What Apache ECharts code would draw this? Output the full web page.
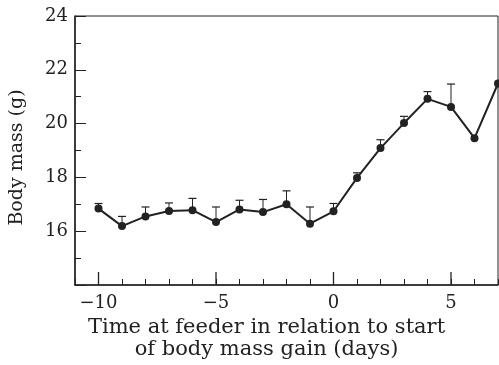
<!DOCTYPE html>
<html>
<head>
<meta charset="utf-8">
<script src="https://cdn.jsdelivr.net/npm/echarts@6/dist/echarts.min.js"></script>
<style>
html,body{margin:0;padding:0;background:#fff;}
#chart{width:499px;height:365px;}
</style>
</head>
<body>
<div id="chart"></div>
<script>
// days relative to start of body mass gain
var days = [-10, -9, -8, -7, -6, -5, -4, -3, -2, -1, 0, 1, 2, 3, 4, 5, 6, 7];
// mean body mass (g)
var mass = [16.84, 16.19, 16.55, 16.75, 16.78, 16.34, 16.81, 16.71, 17.0, 16.28, 16.74, 17.98, 19.09, 20.02, 20.92, 20.62, 19.46, 21.49];
// top of the error bar (g), null = no bar drawn
var errTop = [17.03, 16.55, 16.9, 17.05, 17.22, 16.9, 17.15, 17.18, 17.5, 16.9, 17.03, 18.17, 19.4, 20.27, 21.19, 21.47, null, null];
// labelled (long) ticks on the x axis
var majorDays = [-10, -5, 0, 5];

var ink = '#222';
var font = 'DejaVu Serif';

var lineData = [];
var errData = [];
for (var i = 0; i < days.length; i++) {
	lineData.push([days[i], mass[i]]);
	if (errTop[i] != null) errData.push([days[i], mass[i], errTop[i]]);
}

var chart = echarts.init(document.getElementById('chart'));
chart.setOption({
	animation: false,
	grid: {
		left: 75, right: 1, top: 16, bottom: 80,
		outerBoundsMode: 'none',
		show: true, borderColor: ink, borderWidth: 1
	},
	xAxis: {
		type: 'value',
		min: -11, max: 7, interval: 1,
		axisLine: { onZero: false, lineStyle: { color: ink, width: 1.5 } },
		axisTick: { inside: true, length: 6, lineStyle: { color: ink } },
		splitLine: { show: false },
		axisLabel: {
			color: ink, fontFamily: font, fontSize: 18, margin: 9,
			formatter: function (v) {
				if (majorDays.indexOf(v) < 0) return '';
				return v < 0 ? '\u2212' + Math.abs(v) : '' + v;
			}
		},
		name: 'Time at feeder in relation to start\nof body mass gain (days)',
		nameLocation: 'middle',
		nameGap: 31,
		nameTextStyle: { color: ink, fontFamily: font, fontSize: 21, lineHeight: 22, verticalAlign: 'top', padding: [0, 40, 0, 0] }
	},
	yAxis: {
		type: 'value',
		min: 14, max: 24, interval: 2,
		axisLine: { onZero: false, lineStyle: { color: ink, width: 1.5 } },
		axisTick: { inside: true, length: 11, lineStyle: { color: ink } },
		minorTick: { show: true, splitNumber: 2, length: 6, lineStyle: { color: ink } },
		splitLine: { show: false },
		axisLabel: {
			color: ink, fontFamily: font, fontSize: 18, margin: 7,
			formatter: function (v) { return v < 16 ? '' : '' + v; }
		},
		name: 'Body mass (g)',
		nameLocation: 'middle',
		nameGap: 48,
		nameTextStyle: { color: ink, fontFamily: font, fontSize: 19, padding: [0, 14, 0, 0] }
	},
	series: [
		{
			// long ticks at labelled days
			type: 'custom',
			silent: true,
			data: majorDays.map(function (d) { return [d]; }),
			renderItem: function (params, api) {
				var p = api.coord([api.value(0), 14]);
				return {
					type: 'line',
					shape: { x1: p[0], y1: p[1], x2: p[0], y2: p[1] - 13 },
					style: { stroke: ink, lineWidth: 1.3 }
				};
			}
		},
		{
			type: 'custom',
			silent: true,
			data: errData,
			renderItem: function (params, api) {
				var lo = api.coord([api.value(0), api.value(1)]);
				var hi = api.coord([api.value(0), api.value(2)]);
				var w = 4;
				return {
					type: 'group',
					children: [
						{ type: 'line', shape: { x1: lo[0], y1: lo[1], x2: hi[0], y2: hi[1] }, style: { stroke: ink, lineWidth: 1 } },
						{ type: 'line', shape: { x1: hi[0] - w, y1: hi[1], x2: hi[0] + w, y2: hi[1] }, style: { stroke: ink, lineWidth: 1.2 } }
					]
				};
			}
		},
		{
			type: 'line',
			data: lineData,
			symbol: 'circle',
			symbolSize: 8,
			clip: true,
			lineStyle: { color: ink, width: 2 },
			itemStyle: { color: ink }
		}
	]
});
</script>
</body>
</html>
